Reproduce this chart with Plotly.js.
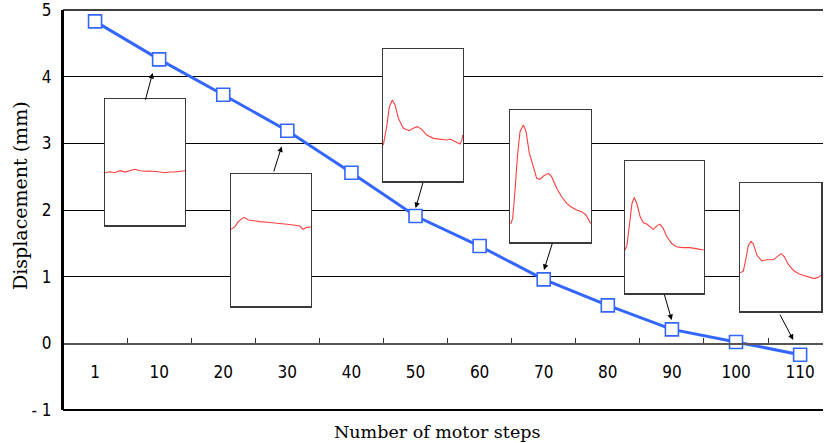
<!DOCTYPE html>
<html>
<head>
<meta charset="utf-8">
<script src="https://cdn.plot.ly/plotly-3.0.1.min.js"></script>
<style>html,body{margin:0;padding:0;background:#fff;}#chart{width:824px;height:443px;}</style>
</head>
<body>
<div id="chart"></div>
<script>
// Main series
const steps = ["1","10","20","30","40","50","60","70","80","90","100","110"];
const displacement = [4.83, 4.26, 3.73, 3.19, 2.56, 1.91, 1.46, 0.96, 0.57, 0.21, 0.02, -0.17];
const yTickVals = [-1, 0, 1, 2, 3, 4, 5];
const yTickText = ["- 1", "0", "1", "2", "3", "4", "5"];

// Inset waveforms (normalized time 0-100, normalized amplitude 0-100)
const w10_t = [0,6,12,19,25,31,37,44,50,56,62,69,75,81,87,94,100];
const w10_v = [41.5,42.3,41.5,43.1,42.0,42.8,44.2,43.1,42.6,42.8,42.6,42.1,41.5,42.1,42.1,42.6,43.1];
const w30_t = [0,5,9,16,22,28,36,45,53,61,70,78,86,90,95,100];
const w30_v = [58.1,60.1,63.9,67.2,65.2,64.4,63.9,63.4,63.1,62.6,61.9,61.4,60.6,58.1,59.6,59.8];
const w50_t = [0.4,4.6,7.9,11.7,15,19.2,25.4,32.9,37.9,42.9,48.3,54.6,62.9,71.3,79.6,83.8,90,96.3,98.8,99.6];
const w50_v = [27.3,41.2,56.3,61.4,57.6,47.5,39.9,38.1,39.9,41.2,39.1,34.8,32.3,31.6,31.1,31.8,29.8,28.0,31.1,34.8];
const w70_t = [0.8,3.3,6.2,9.1,12.3,16.5,19.8,23.9,28.8,32.9,37.0,41.2,47.3,51.4,57.6,63.8,70.0,76.1,82.3,88.5,93.8,97.1,99.6];
const w70_v = [13.6,17.9,39.4,64.6,83.6,88.6,83.6,67.2,57.1,48.2,47.5,50.0,52.0,49.5,40.7,34.3,29.3,26.3,24.2,23.0,20.5,16.7,14.1];
const w90_t = [0,2.5,5.8,8.8,11.7,15,19.2,23.3,27.5,31.7,35.8,40,44.2,48.3,52.5,58.8,65,73.3,81.7,90,99.6];
const w90_v = [32.6,36.4,52.7,67.8,72.3,67.8,57.7,53.2,52.2,50.2,48.2,50.7,52.2,49.0,43.2,37.7,35.1,34.4,34.4,33.6,32.6];
const w110_t = [0,4.1,7.4,10.3,13.6,16.5,20.7,26.8,33.0,41.3,47.5,50.8,54.5,59.9,66.1,72.3,78.5,86.7,91.7,97.1,100];
const w110_v = [29.8,31.1,41.2,51.3,54.4,52.6,43.7,39.2,40.0,40.0,43.3,44.8,42.5,36.2,31.6,29.1,27.8,26.6,25.3,26.6,27.8];

const waves = [[w10_t,w10_v],[w30_t,w30_v],[w50_t,w50_v],[w70_t,w70_v],[w90_t,w90_v],[w110_t,w110_v]];

const insetDomains = [
  {x:[0.0553,0.1605], y:[0.4625,0.7775]},
  {x:[0.2211,0.3263], y:[0.26,0.59]},
  {x:[0.4211,0.5263], y:[0.5725,0.9025]},
  {x:[0.5882,0.6947], y:[0.42,0.75]},
  {x:[0.7395,0.8434], y:[0.2925,0.6225]},
  {x:[0.8908,0.9974], y:[0.2475,0.5675]}
];

const tickFont = {family:"Liberation Sans Narrow, DejaVu Sans Condensed, Roboto, sans-serif", size:17, color:"#000"};
const serif = "DejaVu Serif, Liberation Serif, serif";

const traces = [{
  x: steps, y: displacement, type:"scatter", mode:"lines+markers",
  line:{color:"#3366ff", width:3},
  marker:{symbol:"square", size:13, color:"#ffffff", line:{color:"#3366ff", width:1.6}},
  xaxis:"x", yaxis:"y", hoverinfo:"skip", cliponaxis:false
}];

const layout = {
  width:824, height:443,
  margin:{l:63, r:1, t:10, b:33},
  paper_bgcolor:"#fff", plot_bgcolor:"#fff",
  showlegend:false,
  xaxis:{
    type:"category", range:[-0.5, 11.357], anchor:"free", position:1/6,
    showline:true, linecolor:"#555", linewidth:1.5,
    ticks:"inside", tickson:"boundaries", ticklen:5, tickcolor:"#333", tickwidth:1,
    showgrid:false, zeroline:false, tickfont:tickFont, ticklabelstandoff:13
  },
  yaxis:{
    range:[-1, 5.001], tickvals:yTickVals, ticktext:yTickText,
    showgrid:true, gridcolor:"#000", gridwidth:1, zeroline:false,
    showline:true, linecolor:"#000", linewidth:2, ticks:"", tickfont:tickFont,
    ticklabelstandoff:6, ticklabeloverflow:"allow"
  },
  shapes:[
    {type:"line", xref:"paper", yref:"paper", x0:0, x1:1, y0:1, y1:1, line:{color:"#000", width:1.5}, layer:"above"},
    {type:"line", xref:"paper", yref:"paper", x0:0, x1:1, y0:0, y1:0, line:{color:"#000", width:2}, layer:"above"},
    {type:"line", xref:"paper", yref:"paper", x0:0, x1:0, y0:0, y1:1, line:{color:"#000", width:2}, layer:"above"}
  ],
  annotations:[
    {xref:"paper", yref:"paper", x:-0.0566, y:0.5375, text:"Displacement (mm)", textangle:-90, showarrow:false, font:{family:serif, size:19, color:"#000"}, xanchor:"center", yanchor:"middle"},
    {xref:"paper", yref:"paper", x:0.492, y:-0.055, text:"Number of motor steps", showarrow:false, font:{family:serif, size:17.5, color:"#000"}, xanchor:"center", yanchor:"middle"}
  ]
};

const arrows = [
  {x:0.899, y:4.057, ax:-7.7, ay:28.4},
  {x:2.912, y:2.954, ax:-8.4, ay:26.6},
  {x:5.002, y:2.029, ax:7.6, ay:-26.6},
  {x:7.004, y:1.102, ax:8.7, ay:-27.7},
  {x:8.996, y:0.351, ax:-7.7, ay:-26.7},
  {x:10.893, y:0.051, ax:-14, ay:-26.7}
];
arrows.forEach(a => layout.annotations.push({
  xref:"x", yref:"y", x:a.x, y:a.y, ax:a.ax, ay:a.ay, text:"", showarrow:true,
  arrowhead:2, arrowsize:1.1, arrowwidth:1, arrowcolor:"#000", standoff:0
}));

waves.forEach((w, i) => {
  const n = i + 2;
  traces.push({x:w[0], y:w[1], type:"scatter", mode:"lines",
    line:{color:"rgba(255,40,40,0.9)", width:1.1}, xaxis:"x"+n, yaxis:"y"+n, hoverinfo:"skip"});
  const ax = {domain:insetDomains[i].x, anchor:"y"+n, range:[0,100], showline:true, mirror:true,
    linecolor:"#3a3a3a", linewidth:1.5, showgrid:false, zeroline:false, showticklabels:false, ticks:""};
  const ay = {domain:insetDomains[i].y, anchor:"x"+n, range:[0,100], showline:true, mirror:true,
    linecolor:"#3a3a3a", linewidth:1.5, showgrid:false, zeroline:false, showticklabels:false, ticks:""};
  layout["xaxis"+n] = ax;
  layout["yaxis"+n] = ay;
});

Plotly.newPlot("chart", traces, layout, {staticPlot:true, displayModeBar:false});
</script>
</body>
</html>
